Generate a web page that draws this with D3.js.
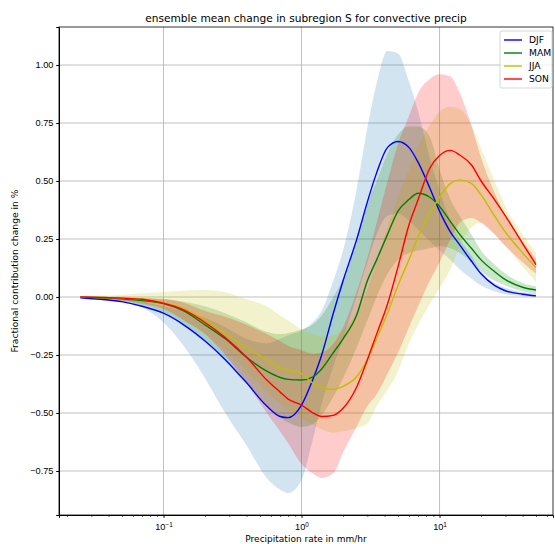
<!DOCTYPE html>
<meta charset="utf-8">
<style>
body { margin: 0; background: #fff; }
svg { font-family: "DejaVu Sans", sans-serif; }
.grid line { stroke: #b0b0b0; stroke-width: 0.8; }
.axis path, .axis line { stroke: #000; }
.axis text { font-size: 9.2px; fill: #000; }
</style>
<body>
<script src="https://cdn.jsdelivr.net/npm/d3@7"></script>
<script>
// precipitation bins (mm/hr)
var xs = [0.025, 0.035, 0.05, 0.07, 0.1, 0.14, 0.2, 0.28, 0.4, 0.56, 0.7, 0.8, 1.0, 1.2, 1.4, 1.7, 2.0, 2.5, 3.0, 3.5, 4.2, 5.0, 6.0, 7.0, 8.5, 10, 12, 14, 17, 20, 25, 30, 40, 50];

var djf   = [-0.003, -0.01, -0.02, -0.04, -0.07, -0.12, -0.19, -0.27, -0.37, -0.47, -0.515, -0.52, -0.466, -0.36, -0.25, -0.07, 0.07, 0.245, 0.41, 0.535, 0.645, 0.67, 0.645, 0.58, 0.47, 0.37, 0.28, 0.225, 0.155, 0.1, 0.05, 0.027, 0.012, 0.005];
var djfHi = [0.0, -0.003, -0.01, -0.02, -0.04, -0.06, -0.09, -0.13, -0.18, -0.2, -0.18, -0.165, -0.145, -0.11, -0.06, 0.07, 0.2, 0.46, 0.73, 0.92, 1.06, 1.05, 0.93, 0.8, 0.6, 0.46, 0.33, 0.25, 0.18, 0.11, 0.06, 0.04, 0.022, 0.017];
var djfLo = [-0.005, -0.012, -0.025, -0.045, -0.11, -0.21, -0.35, -0.5, -0.64, -0.78, -0.83, -0.845, -0.79, -0.62, -0.46, -0.3, -0.18, 0.0, 0.15, 0.27, 0.35, 0.36, 0.33, 0.29, 0.24, 0.2, 0.16, 0.12, 0.08, 0.05, 0.025, 0.012, 0.004, 0.0];

var mam   = [0.0, -0.003, -0.008, -0.015, -0.028, -0.06, -0.12, -0.18, -0.26, -0.32, -0.347, -0.355, -0.358, -0.345, -0.31, -0.24, -0.18, -0.08, 0.07, 0.16, 0.27, 0.37, 0.42, 0.447, 0.43, 0.39, 0.325, 0.27, 0.21, 0.16, 0.11, 0.075, 0.042, 0.03];
var mamHi = [0.0, 0.0, -0.002, -0.004, -0.008, -0.02, -0.04, -0.07, -0.11, -0.15, -0.16, -0.155, -0.14, -0.12, -0.08, 0.0, 0.08, 0.25, 0.4, 0.5, 0.62, 0.7, 0.735, 0.735, 0.69, 0.55, 0.42, 0.35, 0.27, 0.2, 0.14, 0.1, 0.06, 0.045];
var mamLo = [-0.002, -0.008, -0.018, -0.035, -0.065, -0.12, -0.19, -0.27, -0.37, -0.47, -0.52, -0.54, -0.56, -0.55, -0.51, -0.43, -0.35, -0.22, -0.1, 0.0, 0.1, 0.16, 0.19, 0.2, 0.21, 0.22, 0.21, 0.19, 0.15, 0.11, 0.07, 0.05, 0.025, 0.017];

var jja   = [0.0, -0.002, -0.005, -0.01, -0.025, -0.05, -0.1, -0.155, -0.22, -0.27, -0.305, -0.315, -0.33, -0.37, -0.39, -0.398, -0.385, -0.345, -0.27, -0.18, -0.07, 0.05, 0.16, 0.26, 0.36, 0.43, 0.49, 0.505, 0.49, 0.44, 0.35, 0.28, 0.19, 0.127];
var jjaHi = [0.0, 0.004, 0.01, 0.016, 0.022, 0.027, 0.03, 0.02, -0.01, -0.04, -0.08, -0.1, -0.14, -0.16, -0.17, -0.165, -0.14, -0.07, 0.03, 0.15, 0.3, 0.43, 0.55, 0.65, 0.74, 0.8, 0.82, 0.81, 0.74, 0.64, 0.5, 0.39, 0.27, 0.19];
var jjaLo = [-0.002, -0.008, -0.017, -0.03, -0.055, -0.1, -0.16, -0.23, -0.32, -0.41, -0.46, -0.49, -0.52, -0.55, -0.57, -0.585, -0.58, -0.565, -0.545, -0.47, -0.4, -0.32, -0.2, -0.12, -0.03, 0.04, 0.12, 0.22, 0.3, 0.32, 0.27, 0.22, 0.13, 0.065];

var son   = [0.0, -0.002, -0.005, -0.01, -0.027, -0.056, -0.11, -0.175, -0.26, -0.358, -0.41, -0.44, -0.466, -0.498, -0.515, -0.51, -0.48, -0.39, -0.27, -0.16, -0.03, 0.13, 0.31, 0.42, 0.555, 0.61, 0.632, 0.612, 0.57, 0.5, 0.42, 0.35, 0.23, 0.14];
var sonHi = [0.0, 0.0, -0.002, -0.005, -0.01, -0.025, -0.06, -0.085, -0.12, -0.16, -0.19, -0.21, -0.23, -0.245, -0.24, -0.2, -0.13, 0.02, 0.17, 0.32, 0.5, 0.66, 0.78, 0.88, 0.94, 0.96, 0.95, 0.88, 0.74, 0.6, 0.45, 0.35, 0.24, 0.165];
var sonLo = [-0.001, -0.006, -0.014, -0.028, -0.05, -0.1, -0.16, -0.25, -0.37, -0.5, -0.58, -0.63, -0.72, -0.76, -0.78, -0.76, -0.67, -0.56, -0.47, -0.42, -0.33, -0.24, -0.13, -0.04, 0.07, 0.15, 0.25, 0.32, 0.34, 0.32, 0.27, 0.22, 0.15, 0.1];

var seasons = ["DJF", "MAM", "JJA", "SON"];
var lineColors = ["#0000ff", "#008000", "#bfbf00", "#ff0000"];
var bandColors = ["#1f77b4", "#008000", "#bfbf00", "#ff0000"];
var yTicks = [-0.75, -0.5, -0.25, 0, 0.25, 0.5, 0.75, 1.0];

var series = [
  {mean: djf, hi: djfHi, lo: djfLo},
  {mean: mam, hi: mamHi, lo: mamLo},
  {mean: jja, hi: jjaHi, lo: jjaLo},
  {mean: son, hi: sonHi, lo: sonLo}
];

var W = 555, H = 544;
var margin = {top: 27, right: 2, bottom: 29, left: 59},
    width = W - margin.left - margin.right,
    height = H - margin.top - margin.bottom;

var x = d3.scaleLog()
    .domain([Math.pow(10, -1.757), Math.pow(10, 1.822)])
    .range([0, width]);
var y = d3.scaleLinear()
    .domain([-0.9397, 1.1638])
    .range([height, 0]);

var svg = d3.select("body").append("svg")
    .attr("width", W)
    .attr("height", H);
var g = svg.append("g")
    .attr("transform", "translate(" + margin.left + "," + margin.top + ")");

// grid
var majorX = [0.1, 1, 10];
g.append("g").attr("class", "grid")
  .selectAll("line").data(majorX).enter().append("line")
    .attr("x1", function(d) { return x(d); })
    .attr("x2", function(d) { return x(d); })
    .attr("y1", 0).attr("y2", height);
g.append("g").attr("class", "grid")
  .selectAll("line").data(yTicks).enter().append("line")
    .attr("x1", 0).attr("x2", width)
    .attr("y1", function(d) { return y(d); })
    .attr("y2", function(d) { return y(d); });

var area = d3.area()
    .curve(d3.curveMonotoneX)
    .x(function(d) { return x(d[0]); })
    .y0(function(d) { return y(d[1]); })
    .y1(function(d) { return y(d[2]); });
var line = d3.line()
    .curve(d3.curveMonotoneX)
    .x(function(d) { return x(d[0]); })
    .y(function(d) { return y(d[1]); });

series.forEach(function(s, i) {
  var pts = xs.map(function(v, j) { return [v, s.lo[j], s.hi[j]]; });
  g.append("path")
      .attr("d", area(pts))
      .attr("fill", bandColors[i])
      .attr("fill-opacity", 0.2);
});
series.forEach(function(s, i) {
  var pts = xs.map(function(v, j) { return [v, s.mean[j]]; });
  g.append("path")
      .attr("d", line(pts))
      .attr("fill", "none")
      .attr("stroke", lineColors[i])
      .attr("stroke-width", 1.4);
});

// axes
var minorX = [];
[0.01, 0.1, 1, 10].forEach(function(dec) {
  for (var k = 2; k <= 9; k++) {
    var v = dec * k;
    if (v > x.domain()[0] && v < x.domain()[1]) minorX.push(v);
  }
});
var supMap = {"0.1": "\u22121", "1": "0", "10": "1"};

var xAxis = g.append("g").attr("class", "axis")
    .attr("transform", "translate(0," + height + ")")
    .call(d3.axisBottom(x).tickValues(majorX).tickSize(2.8).tickPadding(3).tickFormat(""));
xAxis.selectAll(".tick text").each(function(d) {
  var t = d3.select(this);
  t.attr("dy", "0.95em");
  t.append("tspan").text("10");
  t.append("tspan").attr("dy", "-0.45em").attr("font-size", "6.4px").text(supMap[String(d)]);
});
g.append("g").attr("class", "axis")
    .attr("transform", "translate(0," + height + ")")
    .call(d3.axisBottom(x).tickValues(minorX).tickSize(1.6).tickFormat(""))
  .select(".domain").remove();

g.append("g").attr("class", "axis")
    .call(d3.axisLeft(y).tickValues(yTicks).tickSize(2.8).tickPadding(2.8)
      .tickFormat(function(d) { return d3.format(".2f")(d).replace("-", "\u2212"); }));

g.append("rect")
    .attr("width", width).attr("height", height)
    .attr("fill", "none").attr("stroke", "#000").attr("stroke-width", 0.8);

// labels
svg.append("text")
    .attr("x", margin.left + width / 2).attr("y", 22)
    .attr("text-anchor", "middle")
    .style("font-size", "10.6px")
    .text("ensemble mean change in subregion S for convective precip");
svg.append("text")
    .attr("x", margin.left + width / 2).attr("y", 541.5)
    .attr("text-anchor", "middle")
    .style("font-size", "9px")
    .text("Precipitation rate in mm/hr");
svg.append("text")
    .attr("transform", "translate(18," + (margin.top + height / 2) + ") rotate(-90)")
    .attr("text-anchor", "middle")
    .style("font-size", "9.2px")
    .text("Fractional contribution change in %");

// legend
var lg = svg.append("g").attr("transform", "translate(500,31)");
lg.append("rect")
    .attr("width", 52).attr("height", 57).attr("rx", 2)
    .attr("fill", "#fff").attr("fill-opacity", 0.8)
    .attr("stroke", "#cccccc").attr("stroke-width", 0.8);
seasons.forEach(function(s, i) {
  var yy = 9 + i * 13;
  lg.append("line")
      .attr("x1", 4).attr("x2", 22).attr("y1", yy).attr("y2", yy)
      .attr("stroke", lineColors[i]).attr("stroke-width", 1.4);
  lg.append("text")
      .attr("x", 29).attr("y", yy + 3.3)
      .style("font-size", "9.2px")
      .text(s);
});
</script>
